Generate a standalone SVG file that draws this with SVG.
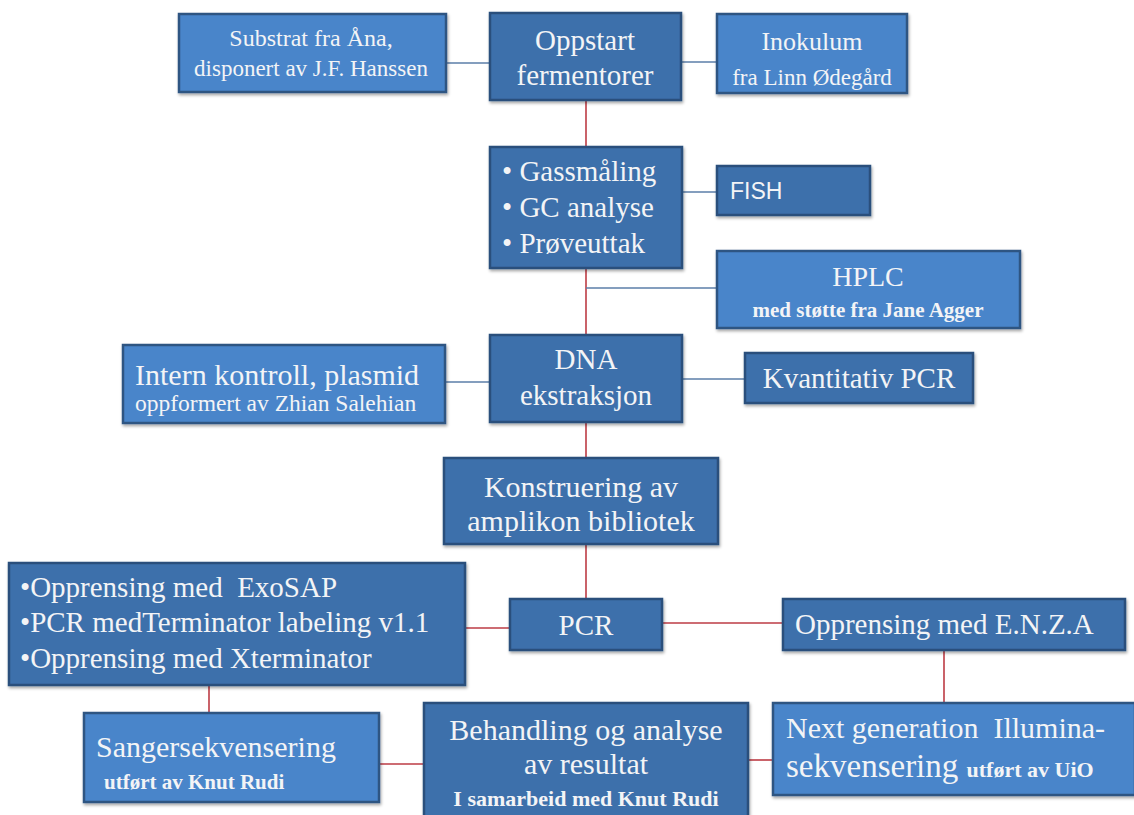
<svg xmlns="http://www.w3.org/2000/svg" width="1134" height="815" viewBox="0 0 1134 815">
<defs>
<filter id="sh" x="-5%" y="-5%" width="112%" height="125%">
<feDropShadow dx="1" dy="2" stdDeviation="1.5" flood-color="#000" flood-opacity="0.35"/>
</filter>
<style>
.bl{fill:#4a85ca;stroke:#2d5482;stroke-width:2.5;filter:url(#sh)}
.bd{fill:#3d6fab;stroke:#2b4f7c;stroke-width:2.5;filter:url(#sh)}
text{font-family:"Liberation Serif","Times New Roman",serif;fill:#f3f4f6}
.c{text-anchor:middle}
.s{font-weight:bold}
.sans{font-family:"Liberation Sans",Arial,sans-serif}
.red{stroke:#bd3b44;stroke-width:1.6;fill:none}
.blu{stroke:#5b7ea8;stroke-width:1.6;fill:none}
</style>
</defs>
<rect width="1134" height="815" fill="#ffffff"/>
<g id="connectors">
<line class="blu" x1="446" y1="63" x2="490" y2="63"/>
<line class="blu" x1="681" y1="62" x2="717" y2="62"/>
<line class="red" x1="586" y1="100" x2="586" y2="147"/>
<line class="blu" x1="682" y1="192" x2="717" y2="192"/>
<line class="red" x1="586" y1="268" x2="586" y2="335"/>
<line class="blu" x1="586" y1="288" x2="717" y2="288"/>
<line class="blu" x1="445" y1="382" x2="490" y2="382"/>
<line class="blu" x1="682" y1="379" x2="745" y2="379"/>
<line class="red" x1="586" y1="422" x2="586" y2="458"/>
<line class="red" x1="586" y1="544" x2="586" y2="599"/>
<line class="red" x1="465" y1="628" x2="510" y2="628"/>
<line class="red" x1="662" y1="623" x2="783" y2="623"/>
<line class="red" x1="209" y1="685" x2="209" y2="713"/>
<line class="red" x1="944" y1="650" x2="944" y2="703"/>
<line class="red" x1="379" y1="764" x2="424" y2="764"/>
<line class="red" x1="748" y1="760" x2="773" y2="760"/>
</g>
<g id="substrat">
<rect class="bl" x="179" y="14" width="267" height="78"/>
<text class="c" x="311" y="46" font-size="24">Substrat fra Åna,</text>
<text class="c" x="311" y="76" font-size="23">disponert av J.F. Hanssen</text>
</g>
<g id="oppstart">
<rect class="bd" x="490" y="13" width="191" height="87"/>
<text class="c" x="585" y="50" font-size="29">Oppstart</text>
<text class="c" x="585" y="85" font-size="29">fermentorer</text>
</g>
<g id="inokulum">
<rect class="bl" x="717" y="14" width="190" height="79"/>
<text class="c" x="812" y="50" font-size="26">Inokulum</text>
<text class="c" x="812" y="85" font-size="23">fra Linn Ødegård</text>
</g>
<g id="gassmaling">
<rect class="bd" x="490" y="147" width="192" height="121"/>
<text x="502" y="181" font-size="29">• Gassmåling</text>
<text x="502" y="217" font-size="29">• GC analyse</text>
<text x="502" y="253" font-size="29">• Prøveuttak</text>
</g>
<g id="fish">
<rect class="bd" x="717" y="166" width="153" height="49"/>
<text class="sans" x="730" y="199" font-size="23">FISH</text>
</g>
<g id="hplc">
<rect class="bl" x="717" y="251" width="303" height="77"/>
<text class="c" x="868" y="286" font-size="28">HPLC</text>
<text class="c s" x="868" y="317" font-size="21">med støtte fra Jane Agger</text>
</g>
<g id="intern">
<rect class="bl" x="123" y="345" width="322" height="78"/>
<text x="135" y="385" font-size="30">Intern kontroll, plasmid</text>
<text x="135" y="411" font-size="23.5">oppformert av Zhian Salehian</text>
</g>
<g id="dna">
<rect class="bd" x="490" y="335" width="192" height="87"/>
<text class="c" x="586" y="369" font-size="29">DNA</text>
<text class="c" x="586" y="405" font-size="29">ekstraksjon</text>
</g>
<g id="kvantitativ">
<rect class="bd" x="745" y="353" width="228" height="50"/>
<text class="c" x="859" y="388" font-size="29">Kvantitativ PCR</text>
</g>
<g id="konstruering">
<rect class="bd" x="444" y="458" width="274" height="86"/>
<text class="c" x="581" y="497" font-size="30">Konstruering av</text>
<text class="c" x="581" y="531" font-size="30">amplikon bibliotek</text>
</g>
<g id="sanger-prep">
<rect class="bd" x="9" y="563" width="456" height="122"/>
<text x="20" y="597" font-size="29" xml:space="preserve">•Opprensing med  ExoSAP</text>
<text x="20" y="632" font-size="29">•PCR medTerminator labeling v1.1</text>
<text x="20" y="668" font-size="29">•Opprensing med Xterminator</text>
</g>
<g id="pcr">
<rect class="bd" x="510" y="599" width="152" height="51"/>
<text class="c" x="586" y="635" font-size="29">PCR</text>
</g>
<g id="enza">
<rect class="bd" x="783" y="599" width="342" height="51"/>
<text x="795" y="634" font-size="29">Opprensing med E.N.Z.A</text>
</g>
<g id="sanger">
<rect class="bl" x="84" y="713" width="295" height="89"/>
<text x="96" y="757" font-size="30">Sangersekvensering</text>
<text class="s" x="104" y="789" font-size="21">utført av Knut Rudi</text>
</g>
<g id="behandling">
<rect class="bd" x="424" y="703" width="324" height="116"/>
<text class="c" x="586" y="740" font-size="30">Behandling og analyse</text>
<text class="c" x="586" y="774" font-size="30">av resultat</text>
<text class="c s" x="586" y="806" font-size="22">I samarbeid med Knut Rudi</text>
</g>
<g id="nextgen">
<rect class="bl" x="773" y="703" width="362" height="92"/>
<text x="786" y="738" font-size="30" xml:space="preserve">Next generation  Illumina-</text>
<text x="786" y="777" font-size="33">sekvensering <tspan class="s" font-size="22">utført av UiO</tspan></text>
</g>
</svg>
